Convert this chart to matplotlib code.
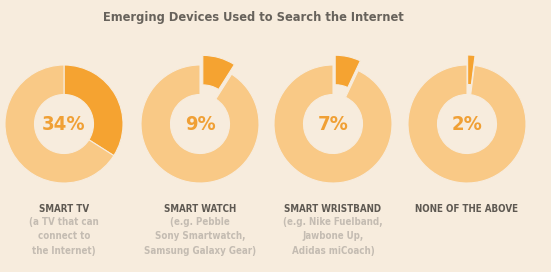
import matplotlib
matplotlib.use("Agg")
import matplotlib.pyplot as plt

# chart data
titulo = "Emerging Devices Used to Search the Internet"
etiketler = ["SMART TV", "SMART WATCH", "SMART WRISTBAND", "NONE OF THE ABOVE"]
aciklamalar = [
    "(a TV that can\nconnect to\nthe Internet)",
    "(e.g. Pebble\nSony Smartwatch,\nSamsung Galaxy Gear)",
    "(e.g. Nike Fuelband,\nJawbone Up,\nAdidas miCoach)",
    "",
]
yuzdeler = [34, 9, 7, 2]
patlat = [False, True, True, True]

ARKA = "#f7ecdd"
KOYU = "#f5a331"
ACIK = "#f9c986"
FONT = "DejaVu Sans"

fig = plt.figure(figsize=(5.51, 2.72), dpi=100)
fig.patch.set_facecolor(ARKA)
ax = fig.add_axes([0, 0, 1, 1])
ax.set_facecolor(ARKA)

merkez_x = [64, 200, 333, 467]
merkez_y = 272 - 124
R = 59

for i, p in enumerate(yuzdeler):
    ex = 10 if patlat[i] else 0
    ax.pie([p, 100 - p], colors=[KOYU, ACIK], startangle=90, counterclock=False,
           center=(merkez_x[i], merkez_y), radius=R, explode=[ex, 0],
           wedgeprops=dict(width=R * 0.5, edgecolor=ARKA, linewidth=0.8))
    ax.text(merkez_x[i], merkez_y, "%d%%" % p, ha="center", va="center",
            fontsize=14.5, fontweight="bold", fontstretch="condensed",
            color="#f0a035", family=FONT)
    ax.text(merkez_x[i], 272 - 209, etiketler[i], ha="center", va="center",
            fontsize=7, fontweight="bold", fontstretch="condensed",
            color="#5e5952", family=FONT)
    if aciklamalar[i]:
        ax.text(merkez_x[i], 272 - 217, aciklamalar[i], ha="center", va="top",
                fontsize=7, fontweight="bold", fontstretch="condensed",
                color="#c4bcb2", family=FONT, linespacing=1.55)

ax.text(253, 272 - 17, titulo, ha="center", va="center", fontsize=9.2,
        fontweight="bold", fontstretch="condensed", color="#67625b", family=FONT)

ax.set_xlim(0, 551)
ax.set_ylim(0, 272)
ax.set_aspect("auto")
ax.axis("off")

fig.savefig("out.png", dpi=100, facecolor=ARKA)
